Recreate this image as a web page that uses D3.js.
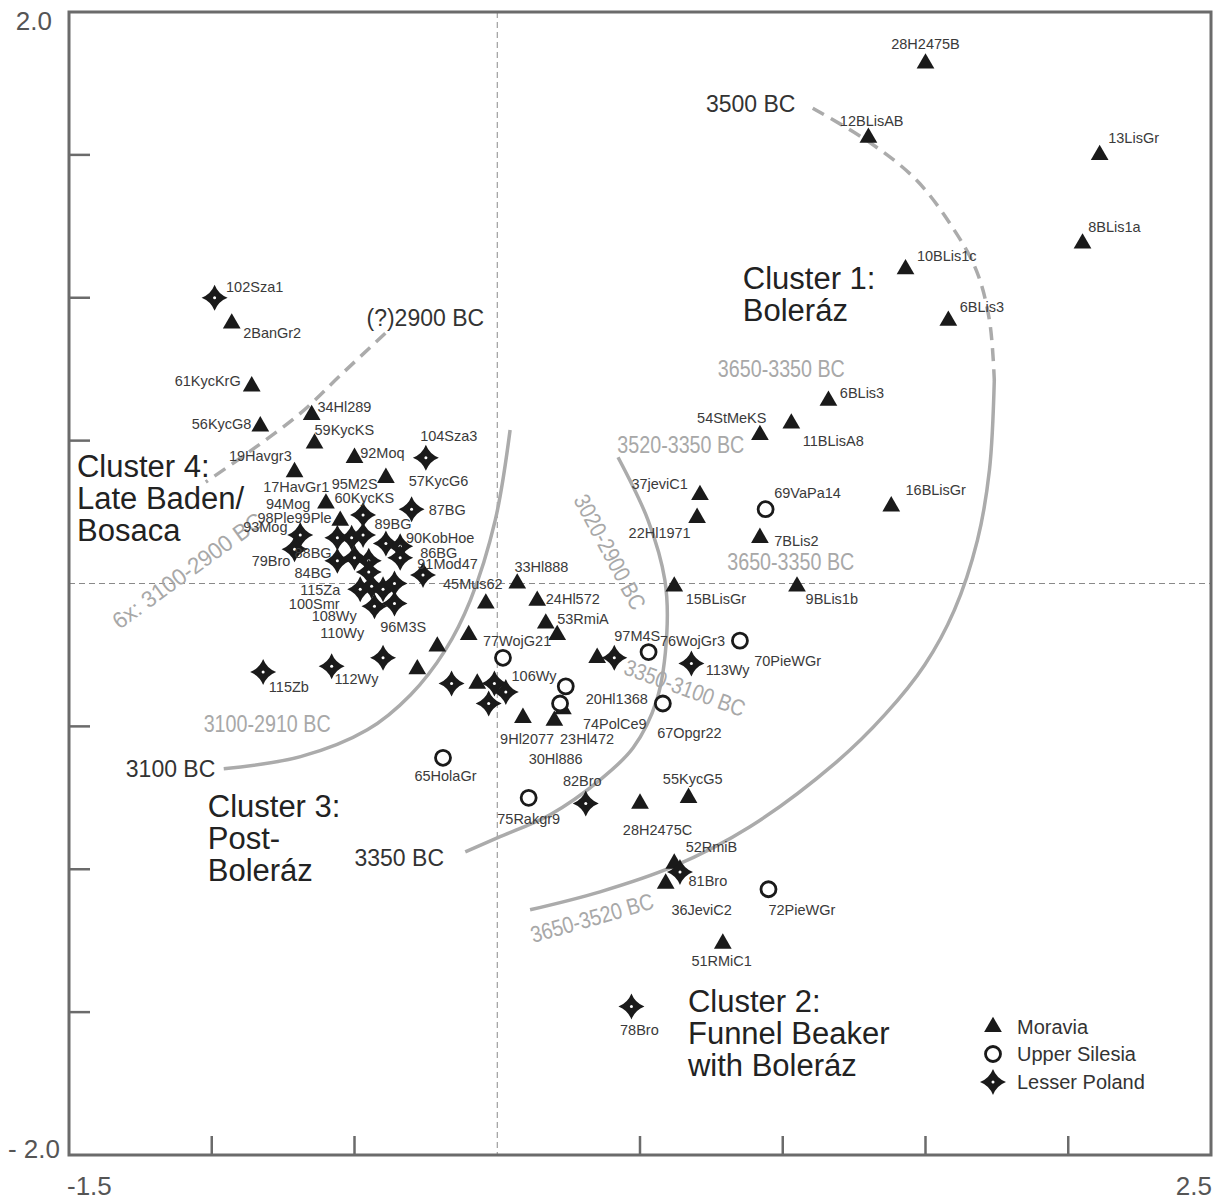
<!DOCTYPE html>
<html><head><meta charset="utf-8">
<script src="https://cdn.jsdelivr.net/npm/d3@7"></script>
<style>body{margin:0;background:#fff}</style>
</head><body>
<script>
// ---------- DATA ----------
const xTicks = [-1, -0.5, 0, 0.5, 1, 1.5, 2];
const yTicks = [-1.5, -1, -0.5, 0, 0.5, 1, 1.5];
const xEndLabels = [["-1.5", -1.5], ["2.5", 2.5]];
const yEndLabels = [["2.0", 2], ["- 2.0", -2]];

const moravia = [
 [1.50,1.82],[1.30,1.56],[2.11,1.50],[2.05,1.19],[1.43,1.10],[1.58,0.92],
 [-0.93,0.91],[-0.86,0.69],[1.16,0.64],[1.03,0.56],[0.92,0.52],[-0.65,0.59],
 [-0.83,0.55],[-0.64,0.49],[-0.50,0.44],[-0.39,0.37],[-0.71,0.39],[-0.60,0.28],
 [-0.55,0.22],[1.38,0.27],[0.71,0.31],[0.70,0.23],[0.92,0.16],[0.62,-0.01],
 [1.05,-0.01],[0.07,0.00],[-0.04,-0.07],[0.14,-0.06],[0.17,-0.14],[0.21,-0.18],
 [-0.10,-0.18],[-0.21,-0.22],[-0.28,-0.30],[-0.07,-0.35],[0.35,-0.26],[0.09,-0.47],
 [0.20,-0.48],[0.23,-0.44],[0.50,-0.77],[0.67,-0.75],[0.62,-0.98],[0.59,-1.05],[0.79,-1.26]
];
const upperSilesia = [
 [0.94,0.26],[0.85,-0.20],[0.53,-0.24],[0.02,-0.26],[0.24,-0.36],[0.22,-0.42],
 [0.58,-0.42],[-0.19,-0.61],[0.11,-0.75],[0.95,-1.07]
];
const lesserPoland = [
 [-0.99,1.00],[-0.25,0.44],[-0.30,0.26],[-0.47,0.24],[-0.69,0.17],[-0.71,0.12],
 [-0.56,0.16],[-0.51,0.16],[-0.47,0.17],[-0.39,0.14],[-0.34,0.13],[-0.56,0.08],
 [-0.50,0.09],[-0.45,0.08],[-0.34,0.09],[-0.45,0.04],[-0.26,0.03],[-0.48,-0.02],
 [-0.44,-0.01],[-0.40,-0.02],[-0.36,0.00],[-0.43,-0.08],[-0.36,-0.07],[-0.40,-0.26],
 [-0.58,-0.29],[-0.82,-0.31],[-0.16,-0.35],[-0.01,-0.35],[0.03,-0.38],[-0.03,-0.42],
 [0.41,-0.26],[0.68,-0.28],[0.31,-0.77],[0.64,-1.01],[0.47,-1.48]
];

const sampleLabels = [
 ["28H2475B",1.38,1.87],["12BLisAB",1.20,1.60],["13LisGr",2.14,1.54],["8BLis1a",2.07,1.23],
 ["10BLis1c",1.47,1.13],["6BLis3",1.62,0.95],["102Sza1",-0.95,1.02],["2BanGr2",-0.89,0.86],
 ["61KycKrG",-1.13,0.69],["56KycG8",-1.07,0.54],["34Hl289",-0.63,0.60],["59KycKS",-0.64,0.52],
 ["19Havgr3",-0.94,0.43],["92Moq",-0.48,0.44],["104Sza3",-0.27,0.50],["57KycG6",-0.31,0.34],
 ["95M2S",-0.58,0.33],["17HavGr1",-0.82,0.32],["60KycKS",-0.57,0.28],["94Mog",-0.81,0.26],
 ["87BG",-0.24,0.24],["98Ple99Ple",-0.84,0.21],["89BG",-0.43,0.19],["93Mog",-0.89,0.18],
 ["90KobHoe",-0.32,0.14],["79Bro",-0.86,0.06],["88BG",-0.71,0.09],["86BG",-0.27,0.09],
 ["84BG",-0.71,0.02],["91Mod47",-0.28,0.05],["45Mus62",-0.19,-0.02],["33Hl888",0.06,0.04],
 ["115Za",-0.69,-0.04],["100Smr",-0.73,-0.09],["108Wy",-0.65,-0.13],["110Wy",-0.62,-0.19],
 ["96M3S",-0.41,-0.17],["24Hl572",0.17,-0.07],["53RmiA",0.21,-0.14],["15BLisGr",0.66,-0.07],
 ["9BLis1b",1.08,-0.07],["77WojG21",-0.05,-0.22],["97M4S",0.41,-0.20],["76WojGr3",0.57,-0.22],
 ["70PieWGr",0.90,-0.29],["113Wy",0.73,-0.32],["112Wy",-0.57,-0.35],["115Zb",-0.80,-0.38],
 ["106Wy",0.05,-0.34],["20Hl1368",0.31,-0.42],["74PolCe9",0.30,-0.51],["67Opgr22",0.56,-0.54],
 ["9Hl2077",0.01,-0.56],["23Hl472",0.22,-0.56],["30Hl886",0.11,-0.63],["65HolaGr",-0.29,-0.69],
 ["82Bro",0.23,-0.71],["55KycG5",0.58,-0.70],["75Rakgr9",0.00,-0.84],["28H2475C",0.44,-0.88],
 ["52RmiB",0.66,-0.94],["81Bro",0.67,-1.06],["36JeviC2",0.61,-1.16],["72PieWGr",0.95,-1.16],
 ["51RMiC1",0.68,-1.34],["78Bro",0.43,-1.58],["54StMeKS",0.70,0.56],["6BLis3",1.20,0.65],
 ["11BLisA8",1.07,0.48],["37jeviC1",0.47,0.33],["69VaPa14",0.97,0.30],["22Hl1971",0.46,0.16],
 ["7BLis2",0.97,0.13],["16BLisGr",1.43,0.31]
];

// boundary curves
const curve3500Dashed = [[1.105,1.663],[1.304,1.544],[1.469,1.411],[1.594,1.247],[1.678,1.096],[1.724,0.921],[1.741,0.712]];
const curve3500Solid = [[1.741,0.712],[1.724,0.397],[1.682,0.152],[1.601,-0.093],[1.497,-0.285],[1.357,-0.460],[1.189,-0.624],[0.885,-0.851],[0.615,-0.991],[0.360,-1.079],[0.115,-1.142]];
const curve3350 = [[0.423,0.442],[0.528,0.222],[0.587,0.012],[0.594,-0.173],[0.559,-0.407],[0.476,-0.575],[0.360,-0.687],[0.185,-0.809],[0.010,-0.886],[-0.112,-0.939]];
const curve3100 = [[0.045,0.537],[-0.007,0.222],[-0.094,-0.058],[-0.182,-0.233],[-0.304,-0.390],[-0.455,-0.512],[-0.689,-0.606],[-0.958,-0.648]];
const curve2900 = [[-0.392,0.876],[-0.549,0.729],[-0.689,0.596],[-0.846,0.477],[-1.021,0.355]];

// date range annotations: text, x, y, angle
const rangeLabels = [
 ["3650-3350 BC",0.995,0.722,0],["3520-3350 BC",0.643,0.456,0],["3650-3350 BC",1.028,0.047,0],
 ["3100-2910 BC",-0.806,-0.519,0],["3020-2900 BC",0.395,0.110,62],["3350-3100 BC",0.657,-0.365,20],
 ["3650-3520 BC",0.332,-1.170,-16],["6x: 3100-2900 BC",-1.085,0.045,-36]
];
const dateLabels = [["3500 BC",0.731,1.649],["(?)2900 BC",-0.458,0.900],["3100 BC",-1.301,-0.677],["3350 BC",-0.500,-0.988]];
const clusterLabels = [
 [["Cluster 1:","Boleráz"],0.860,1.030],
 [["Cluster 4:","Late Baden/","Bosaca"],-1.472,0.372],
 [["Cluster 3:","Post-","Boleráz"],-1.014,-0.816],
 [["Cluster 2:","Funnel Beaker","with Boleráz"],0.668,-1.498]
];
const legendItems = ["Moravia","Upper Silesia","Lesser Poland"];

// ---------- CHART ----------
const W = 1218, H = 1200;
const svg = d3.select("body").append("svg").attr("width", W).attr("height", H)
  .style("font-family", "'Liberation Sans', Arial, sans-serif");
const x = d3.scaleLinear().domain([-1.5, 2.5]).range([69, 1211]);
const y = d3.scaleLinear().domain([-2, 2]).range([1155, 12]);
const grey = "#6b6b6b", curveGrey = "#ababab";

// zero lines
svg.append("line").attr("x1", x(0)).attr("x2", x(0)).attr("y1", y(2)).attr("y2", y(-2))
  .attr("stroke", "#8a8a8a").attr("stroke-width", 1).attr("stroke-dasharray", "6,4");
svg.append("line").attr("x1", x(-1.5)).attr("x2", x(2.5)).attr("y1", y(0)).attr("y2", y(0))
  .attr("stroke", "#8a8a8a").attr("stroke-width", 1).attr("stroke-dasharray", "6,4");

// curves
const line = d3.line().x(d => x(d[0])).y(d => y(d[1])).curve(d3.curveCatmullRom.alpha(0.5));
function drawCurve(pts, dashed) {
  svg.append("path").attr("d", line(pts)).attr("fill", "none").attr("stroke", curveGrey)
    .attr("stroke-width", 3.5).attr("stroke-dasharray", dashed ? "13,8" : null);
}
drawCurve(curve3500Dashed, true);
drawCurve(curve3500Solid, false);
drawCurve(curve3350, false);
drawCurve(curve3100, false);
drawCurve(curve2900, true);

// range labels (grey condensed)
rangeLabels.forEach(([t, vx, vy, ang]) => {
  const len = t.length > 13 ? 180 : 127;
  svg.append("text").attr("transform", `translate(${x(vx)},${y(vy)}) rotate(${ang})`)
    .attr("text-anchor", "middle").attr("dy", ang ? "0.35em" : 0)
    .attr("font-size", 23).attr("fill", "#a8a8a8")
    .attr("textLength", len).attr("lengthAdjust", "spacingAndGlyphs").text(t);
});

// frame
svg.append("rect").attr("x", x(-1.5)).attr("y", y(2)).attr("width", x(2.5) - x(-1.5))
  .attr("height", y(-2) - y(2)).attr("fill", "none").attr("stroke", grey).attr("stroke-width", 3);
svg.selectAll(".yt").data(yTicks.filter(v => v !== 0)).join("line")
  .attr("x1", x(-1.5)).attr("x2", x(-1.5) + 21).attr("y1", d => y(d)).attr("y2", d => y(d))
  .attr("stroke", grey).attr("stroke-width", 2.5);
svg.selectAll(".xt").data(xTicks.filter(v => v !== 0)).join("line")
  .attr("y1", y(-2)).attr("y2", y(-2) - 19).attr("x1", d => x(d)).attr("x2", d => x(d))
  .attr("stroke", grey).attr("stroke-width", 2.5);
svg.selectAll(".xl").data(xEndLabels).join("text")
  .attr("x", d => d[1] < 0 ? x(d[1]) - 2 : x(d[1]) + 1).attr("y", 1195)
  .attr("text-anchor", d => d[1] < 0 ? "start" : "end")
  .attr("font-size", 26).attr("fill", "#555").text(d => d[0]);
svg.selectAll(".yl").data(yEndLabels).join("text")
  .attr("x", d => d[1] > 0 ? 52 : 60).attr("y", d => y(d[1]) + (d[1] > 0 ? 18 : 3)).attr("text-anchor", "end")
  .attr("font-size", 26).attr("fill", "#555").text(d => d[0]);

// symbols
const triPath = d3.symbol().type(d3.symbolTriangle).size(136)();
function starPath(R, c) {
  const p = d3.path();
  p.moveTo(0, -R);
  p.quadraticCurveTo(c, -c, R, 0);
  p.quadraticCurveTo(c, c, 0, R);
  p.quadraticCurveTo(-c, c, -R, 0);
  p.quadraticCurveTo(-c, -c, 0, -R);
  p.closePath();
  return p.toString();
}
const star = starPath(13, 3.6);
function drawTri(g, cx, cy) {
  g.append("path").attr("d", triPath).attr("transform", `translate(${cx},${cy})`).attr("fill", "#1a1a1a");
}
function drawCircle(g, cx, cy) {
  g.append("circle").attr("cx", cx).attr("cy", cy).attr("r", 7.5).attr("fill", "#fff")
    .attr("stroke", "#1a1a1a").attr("stroke-width", 2.8);
}
function drawStar(g, cx, cy) {
  g.append("path").attr("d", star).attr("transform", `translate(${cx},${cy})`).attr("fill", "#1a1a1a");
  g.append("circle").attr("cx", cx).attr("cy", cy).attr("r", 1.5).attr("fill", "#fff");
}
const pts = svg.append("g");
moravia.forEach(d => drawTri(pts, x(d[0]), y(d[1])));
upperSilesia.forEach(d => drawCircle(pts, x(d[0]), y(d[1])));
lesserPoland.forEach(d => drawStar(pts, x(d[0]), y(d[1])));

// sample labels
svg.selectAll(".sl").data(sampleLabels).join("text")
  .attr("x", d => x(d[1])).attr("y", d => y(d[2])).attr("font-size", 14.5).attr("fill", "#3a3a3a")
  .text(d => d[0]);

// date labels
svg.selectAll(".dl").data(dateLabels).join("text")
  .attr("x", d => x(d[1])).attr("y", d => y(d[2])).attr("font-size", 23).attr("fill", "#333")
  .text(d => d[0]);

// cluster labels
clusterLabels.forEach(([lines, vx, vy]) => {
  const t = svg.append("text").attr("font-size", 31).attr("fill", "#222");
  lines.forEach((s, i) => t.append("tspan").attr("x", x(vx)).attr("y", y(vy) + i * 32).text(s));
});

// legend
const lg = svg.append("g");
const lgY = [1027, 1054, 1082];
drawTri(lg, 993, lgY[0]);
drawCircle(lg, 993, lgY[1]);
drawStar(lg, 993, lgY[2]);
legendItems.forEach((s, i) => lg.append("text").attr("x", 1017).attr("y", lgY[i] + 7)
  .attr("font-size", 20).attr("fill", "#333").text(s));
</script>
</body></html>
